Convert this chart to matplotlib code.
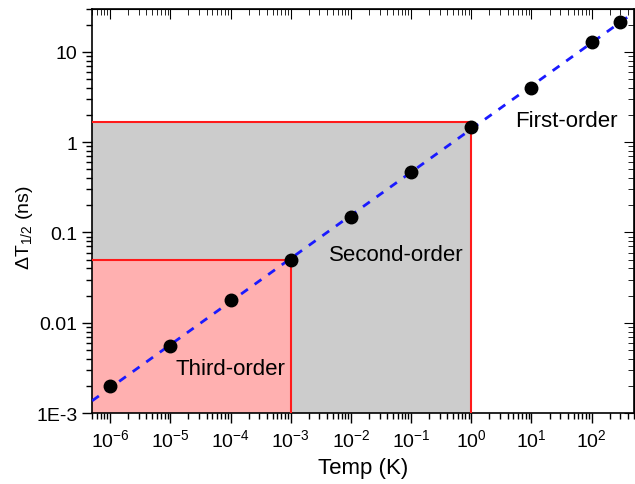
import numpy as np
import matplotlib
matplotlib.use("Agg")
import matplotlib.pyplot as plt
from matplotlib.ticker import LogLocator, FixedLocator, FixedFormatter, NullFormatter

plt.rcParams['font.family'] = ['Liberation Sans', 'DejaVu Sans']
plt.rcParams['mathtext.fontset'] = 'custom'
plt.rcParams['mathtext.rm'] = 'Liberation Sans'
plt.rcParams['mathtext.it'] = 'Liberation Sans'

# Measured linewidth data
temp_k = [1e-6, 1e-5, 1e-4, 1e-3, 1e-2, 1e-1, 1.0, 10.0, 100.0, 295.0]
dt_half_ns = [0.0020, 0.0055, 0.018, 0.049, 0.147, 0.47, 1.49, 3.98, 12.7, 21.5]

# Region boundaries
third_order_T = 1e-3
third_order_dt = 0.05
second_order_T = 1.0
second_order_dt = 1.68

x_limits = (5e-7, 500)
y_limits = (1e-3, 30)

y_tick_values = [1e-3, 0.01, 0.1, 1, 10]
y_tick_labels = ["1E-3", "0.01", "0.1", "1", "10"]

fig = plt.figure(figsize=(6.35, 4.85), dpi=100)
ax = fig.add_axes([0.145, 0.146, 0.853, 0.834])
ax.set_xscale('log')
ax.set_yscale('log')
ax.set_xlim(*x_limits)
ax.set_ylim(*y_limits)

# Shaded regions
ax.fill_between([x_limits[0], second_order_T], y_limits[0], second_order_dt,
                color='#cccccc', lw=0, zorder=1)
ax.fill_between([x_limits[0], third_order_T], y_limits[0], third_order_dt,
                color='#ffb0b0', lw=0, zorder=2)
red = '#ff1a1a'
ax.plot([x_limits[0], second_order_T, second_order_T],
        [second_order_dt, second_order_dt, y_limits[0]], color=red, lw=1.5, zorder=3)
ax.plot([x_limits[0], third_order_T, third_order_T],
        [third_order_dt, third_order_dt, y_limits[0]], color=red, lw=1.5, zorder=3)

# Power-law fit line
logx = np.log10(temp_k)
logy = np.log10(dt_half_ns)
slope, intercept = np.polyfit(logx, logy, 1)
xf = np.logspace(np.log10(x_limits[0]), np.log10(x_limits[1]), 200)
ax.plot(xf, 10 ** (intercept + slope * np.log10(xf)), color='#1a1aff', lw=2,
        ls=(0, (3, 3)), zorder=4)

ax.plot(temp_k, dt_half_ns, 'o', color='black', ms=9, zorder=5, clip_on=False)

# Region labels
ax.text(1e-4, 0.0031, "Third-order", fontsize=16, ha='center', va='center', zorder=6)
ax.text(0.057, 0.057, "Second-order", fontsize=16, ha='center', va='center', zorder=6)
ax.text(38, 1.72, "First-order", fontsize=16, ha='center', va='center', zorder=6)

# Axis ticks
ax.xaxis.set_major_locator(FixedLocator([10.0 ** k for k in range(-6, 3)]))
ax.xaxis.set_minor_locator(LogLocator(base=10, subs=np.arange(2, 10), numticks=20))
ax.xaxis.set_minor_formatter(NullFormatter())
ax.yaxis.set_major_locator(FixedLocator(y_tick_values))
ax.yaxis.set_major_formatter(FixedFormatter(y_tick_labels))
ax.yaxis.set_minor_locator(LogLocator(base=10, subs=np.arange(2, 10), numticks=20))
ax.yaxis.set_minor_formatter(NullFormatter())

ax.tick_params(which='both', direction='out', labelsize=14, width=1)
ax.tick_params(which='major', length=7)
ax.tick_params(which='minor', length=4)

# Mirrored ticks pointing inward on the top and right spines
secx = ax.secondary_xaxis('top')
secx.set_xscale('log')
secx.xaxis.set_major_locator(FixedLocator([10.0 ** k for k in range(-6, 3)]))
secx.xaxis.set_minor_locator(LogLocator(base=10, subs=np.arange(2, 10), numticks=20))
secx.tick_params(which='both', direction='in', labeltop=False)
secx.tick_params(which='major', length=7)
secx.tick_params(which='minor', length=4)
secy = ax.secondary_yaxis('right')
secy.set_yscale('log')
secy.yaxis.set_major_locator(FixedLocator(y_tick_values))
secy.yaxis.set_minor_locator(LogLocator(base=10, subs=np.arange(2, 10), numticks=20))
secy.tick_params(which='both', direction='in', labelright=False)
secy.tick_params(which='major', length=7)
secy.tick_params(which='minor', length=4)

for s in ax.spines.values():
    s.set_linewidth(1.2)

ax.set_xlabel("Temp (K)", fontsize=16, labelpad=5)
ax.set_ylabel(r"$\Delta$T$_{1/2}$ (ns)", fontsize=14)
ax.yaxis.set_label_coords(-0.105, 0.46)

fig.savefig("out.png", dpi=100)
